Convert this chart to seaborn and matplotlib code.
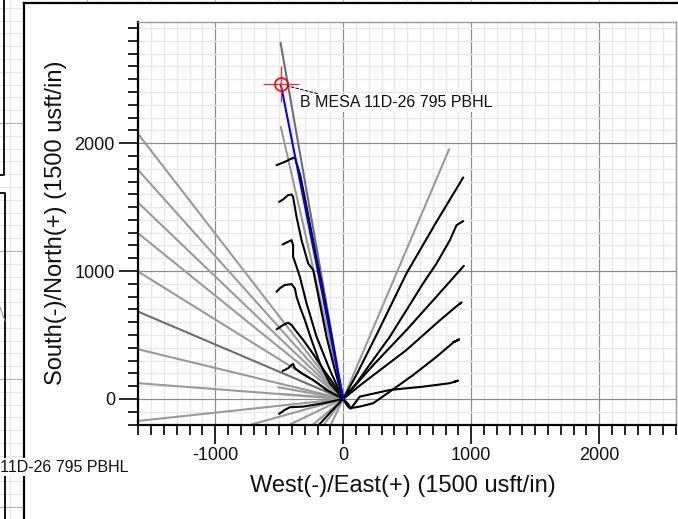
import numpy as np
import pandas as pd
import matplotlib
matplotlib.use("Agg")
import matplotlib.pyplot as plt
import seaborn as sns
from matplotlib.ticker import MultipleLocator
from matplotlib.patches import Rectangle

# ---------------- data ----------------
target_x = -487
target_y = 2461
target_label = "B MESA 11D-26 795 PBHL"

# straight offset / plan lines from the surface location (end points)
gray_end_x = [-1600, -1600, -1600, -1600, -1600, -1600, -1600, -1600,
              -507, -500, -716, -416, -234, -150, -95, -487, 828]
gray_end_y = [2070, 1789, 1534, 1294, 995, 388, 123, -172,
              91, 40, -200, -200, -200, -200, -200, 2127, 1953]
dark_end_x = [-1600, -489]
dark_end_y = [682, 2786]

# surveyed offset wells (black)
n1_x = [-520, -455, -403, -377, -335, -285, -218, -158, -92, -40, 0]
n1_y = [1828, 1854, 1880, 1888, 1750, 1500, 1150, 850, 500, 200, 0]
n2_x = [-500, -469, -430, -403, -391, -364, -325, -273, -234, -182, -130, -65, 0]
n2_y = [1541, 1560, 1594, 1599, 1580, 1424, 1242, 1060, 1008, 748, 487, 227, 0]
n3_x = [-473, -430, -403, -391, -391, -364, -338, -286, -208, -104, 0]
n3_y = [1208, 1229, 1242, 1203, 1112, 1034, 955, 748, 487, 227, 0]
n4_x = [-520, -495, -456, -403, -377, -364, -338, -299, -247, -182, -104, 0]
n4_y = [838, 865, 891, 898, 865, 799, 721, 617, 461, 279, 123, 0]
n5_x = [-520, -469, -430, -403, -364, -312, -247, -169, -78, 0]
n5_y = [544, 578, 596, 578, 526, 461, 370, 252, 123, 0]
n6_x = [-473, -430, -403, -391, -377, -325, -234, -130, 0]
n6_y = [219, 240, 266, 273, 240, 201, 148, 70, 0]
n7_x = [-500, -456, -416, -312, -156, 0]
n7_y = [-117, -86, -65, -60, -34, 0]
s1_x = [0, -95, -200]
s1_y = [0, -100, -215]
e1_x = [0, 110, 270, 495, 720, 938]
e1_y = [0, 200, 520, 982, 1370, 1732]
e2_x = [0, 104, 234, 365, 495, 625, 730, 834, 886, 938]
e2_y = [0, 123, 305, 487, 695, 904, 1060, 1242, 1359, 1391]
e3_x = [0, 240, 495, 720, 943]
e3_y = [0, 270, 539, 790, 1041]
e4_x = [0, 150, 495, 750, 880, 925, 910]
e4_y = [0, 120, 383, 610, 720, 755, 742]
e5_x = [0, 30, 52, 130, 234, 365, 547, 730, 859, 906, 886, 860]
e5_y = [0, -50, -73, -60, -34, 57, 187, 330, 440, 466, 455, 445]
e6_x = [0, 40, 60, 130, 365, 625, 834, 898, 870]
e6_y = [0, -40, -75, 18, 70, 96, 123, 143, 135]

black_wells = {"N1": (n1_x, n1_y), "N2": (n2_x, n2_y), "N3": (n3_x, n3_y),
               "N4": (n4_x, n4_y), "N5": (n5_x, n5_y), "N6": (n6_x, n6_y),
               "N7": (n7_x, n7_y), "S1": (s1_x, s1_y), "E1": (e1_x, e1_y),
               "E2": (e2_x, e2_y), "E3": (e3_x, e3_y), "E4": (e4_x, e4_y),
               "E5": (e5_x, e5_y), "E6": (e6_x, e6_y)}

plan_x = [0, target_x]
plan_y = [0, target_y]

# ---------------- helpers ----------------
def radial_df(ex, ey):
    rows = []
    for i, (x, y) in enumerate(zip(ex, ey)):
        rows.append({"x": 0, "y": 0, "line": i, "o": 0})
        rows.append({"x": x, "y": y, "line": i, "o": 1})
    return pd.DataFrame(rows)

def wells_df(wells):
    rows = []
    for name, (xs, ys) in wells.items():
        for k, (x, y) in enumerate(zip(xs, ys)):
            rows.append({"x": x, "y": y, "line": name, "o": k})
    return pd.DataFrame(rows)

# ---------------- style ----------------
sns.set_theme(style="white")
plt.rcParams["font.family"] = ["Liberation Sans", "DejaVu Sans"]
plt.rcParams["axes.unicode_minus"] = False

W, H = 678, 519
fig = plt.figure(figsize=(W / 100, H / 100), dpi=100)

# background sheet (drawing paper grid + frame)
bg = fig.add_axes([0, 0, 1, 1], zorder=-10)
bg.set_xlim(0, W)
bg.set_ylim(H, 0)
bg.axis("off")
for k in range(-20, 60):
    xv = 87.3 + 12.8 * k
    yv = 123 + 12.8 * k
    bg.axvline(xv, color="#e6e6e6", lw=0.8)
    bg.axhline(yv, color="#e6e6e6", lw=0.8)
for k in range(-2, 6):
    bg.axvline(87.3 + 128 * k, color="#b4b4b4", lw=0.8)
    bg.axhline(123 + 128 * k, color="#b4b4b4", lw=0.8)
bg.add_patch(Rectangle((24, 3), W, H, facecolor="white", edgecolor="none", zorder=2))
bg.plot([24, 24], [3, H], color="black", lw=1.6, zorder=3, solid_capstyle="projecting")
bg.plot([24, W], [3, 3], color="black", lw=1.6, zorder=3, solid_capstyle="projecting")
bg.plot([0, 4, 4], [175, 175, 0], color="black", lw=1.3, zorder=3)
bg.plot([0, 5, 5], [193, 193, H], color="black", lw=1.3, zorder=3)
bg.plot([0, 5], [307, 321], color="#909090", lw=0.7, zorder=3)
bg.text(128, 467, target_label, ha="right", va="center", fontsize=11.5,
        color="#111111", zorder=4,
        bbox=dict(boxstyle="square,pad=0.12", facecolor="white", edgecolor="none"))

# main plot axes
ax = fig.add_axes([138.3 / W, (H - 424.5) / H, 537.7 / W, 402.8 / H])
ax.set_xlim(-1600, 2600)
ax.set_ylim(-200, 2950)
ax.set_facecolor("white")

ax.xaxis.set_major_locator(MultipleLocator(1000))
ax.xaxis.set_minor_locator(MultipleLocator(100))
ax.yaxis.set_major_locator(MultipleLocator(1000))
ax.yaxis.set_minor_locator(MultipleLocator(100))
ax.set_axisbelow(True)
ax.grid(which="minor", color="#e8e8e8", lw=1.0)
ax.grid(which="major", color="#8c8c8c", lw=0.9)

for s in ["left", "bottom"]:
    ax.spines[s].set_color("black")
    ax.spines[s].set_linewidth(1.6)
for s in ["top", "right"]:
    ax.spines[s].set_color("#9a9a9a")
    ax.spines[s].set_linewidth(1.0)

ax.tick_params(which="both", direction="out", color="black", width=1.2,
               bottom=True, left=True, top=False, right=False)
ax.tick_params(which="major", length=14, labelsize=13, labelcolor="#111111")
ax.tick_params(which="minor", length=7)
ax.tick_params(axis="x", which="major", pad=2.5)
ax.tick_params(axis="y", which="major", pad=2.8)

# lines
sns.lineplot(data=radial_df(gray_end_x, gray_end_y), x="x", y="y", units="line",
             estimator=None, sort=False, color="#9a9a9a", lw=1.5, ax=ax, zorder=2)
sns.lineplot(data=radial_df(dark_end_x, dark_end_y), x="x", y="y", units="line",
             estimator=None, sort=False, color="#6e6e6e", lw=1.5, ax=ax, zorder=2)
sns.lineplot(data=wells_df(black_wells), x="x", y="y", units="line",
             estimator=None, sort=False, color="black", lw=1.5, ax=ax, zorder=3)
sns.lineplot(x=plan_x, y=plan_y, sort=False, estimator=None, color="#0000ff",
             lw=1.5, ax=ax, zorder=4)

# target symbol
ax.plot([target_x], [target_y], marker="+", markersize=26, mew=0.9,
        color="#ff2a2a", linestyle="none", zorder=5)
ax.plot([target_x], [target_y], marker="o", markersize=9.4, mew=1.2,
        mfc="none", mec="#ff0000", linestyle="none", zorder=5)
ax.annotate(target_label, xy=(target_x, target_y), xytext=(13.7, -13.5),
            textcoords="offset points", ha="left", va="center", fontsize=11.5,
            color="#111111", zorder=6,
            bbox=dict(boxstyle="square,pad=0.12", facecolor="white", edgecolor="none"),
            arrowprops=dict(arrowstyle="-", linestyle=(0, (3, 2)), color="black",
                            lw=0.7, relpos=(0.13, 1.0), shrinkA=0, shrinkB=4.7))

ax.set_xlabel("West(-)/East(+) (1500 usft/in)", fontsize=17, color="#111111")
ax.set_ylabel("South(-)/North(+) (1500 usft/in)", fontsize=17, color="#111111")
ax.xaxis.set_label_coords(0.5 - 4.5 / 537.7, -0.125)
ax.yaxis.set_label_coords(-0.132, 0.5)

fig.savefig("out.png", dpi=100)
